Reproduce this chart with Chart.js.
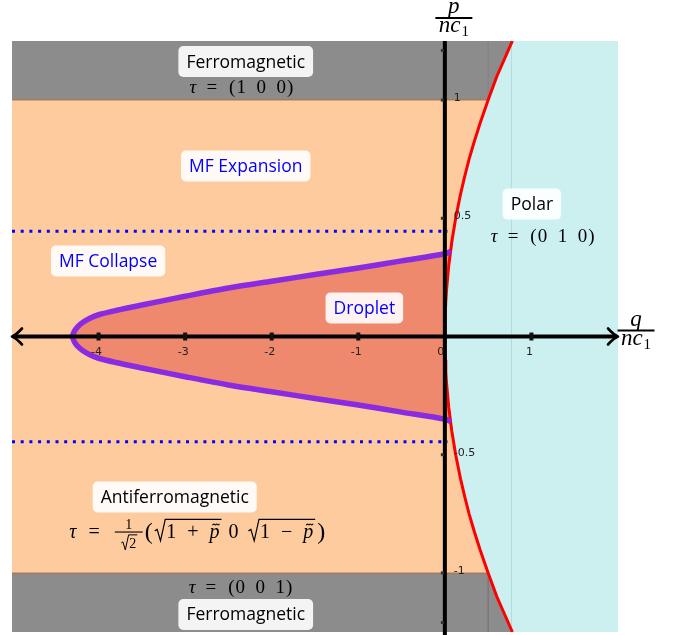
<!DOCTYPE html>
<html>
<head>
<meta charset="utf-8">
<script src="https://cdn.jsdelivr.net/npm/chart.js@4/dist/chart.umd.min.js"></script>
<style>
  html, body { margin: 0; padding: 0; background: #ffffff; }
  #wrap { width: 683px; height: 635px; }
</style>
</head>
<body>
<div id="wrap"><canvas id="phase" width="683" height="635"></canvas></div>
<script>
// ---- diagram data (q/nc1 horizontally, p/nc1 vertically) ----
const qLimits = [-5, 2];
const pLimits = [-1.25, 1.25];

// ferromagnetic bands sit beyond |p| = 1
const ferroEdgeP = [1, -1];

// boundary of the polar phase (red curve)
const polarP = [1.25, 1.175, 1.1, 1.0, 0.9, 0.825, 0.75, 0.675, 0.6, 0.5, 0.4, 0.3, 0.2, 0.15, 0.1, 0.05, 0,
                -0.05, -0.1, -0.15, -0.2, -0.3, -0.4, -0.5, -0.6, -0.675, -0.75, -0.825, -0.9, -1.0, -1.1, -1.175, -1.25];
const polarQ = [0.78, 0.69, 0.6, 0.5, 0.405, 0.34, 0.28, 0.228, 0.18, 0.125, 0.08, 0.045, 0.02, 0.011, 0.005, 0.001, 0,
                0.001, 0.005, 0.011, 0.02, 0.045, 0.08, 0.125, 0.18, 0.228, 0.28, 0.34, 0.405, 0.5, 0.6, 0.69, 0.78];

// droplet boundary (purple curve)
const dropletQ = [0.07, 0, -0.5, -1, -1.5, -2, -2.5, -3, -3.5, -3.8, -4, -4.1, -4.18, -4.24, -4.28, -4.3,
                  -4.28, -4.24, -4.18, -4.1, -4, -3.8, -3.5, -3, -2.5, -2, -1.5, -1, -0.5, 0, 0.07];
const dropletP = [0.36, 0.35, 0.32, 0.29, 0.262, 0.234, 0.205, 0.17, 0.133, 0.11, 0.092, 0.077, 0.06, 0.042, 0.022, 0,
                  -0.022, -0.042, -0.06, -0.077, -0.092, -0.11, -0.133, -0.17, -0.205, -0.234, -0.262, -0.29, -0.32, -0.35, -0.36];

// mean-field collapse threshold (dotted lines)
const collapseQ = [-5, 0.03];
const collapseP = [0.445, -0.445];

// axis ticks
const xTicks = [-4, -3, -2, -1, 0, 1];
const xTickLabels = ['-4', '-3', '-2', '-1', '0', '1'];
const yTicks = [1, 0.5, -0.5, -1];
const yTickLabels = ['1', '0.5', '-0.5', '-1'];
const yEndMarks = [1.21, -1.21];

// phase names
const phaseNames = ['Ferromagnetic', 'MF Expansion', 'Polar', 'MF Collapse', 'Droplet', 'Antiferromagnetic', 'Ferromagnetic'];

// ---- helpers ----
const pts = (qs, ps) => qs.map((q, i) => ({ x: q, y: ps[i] }));
const rect = (q0, q1, p0, p1) => [{ x: q0, y: p0 }, { x: q1, y: p0 }, { x: q1, y: p1 }, { x: q0, y: p1 }];
const NONE = 'rgba(0,0,0,0)';

function area(label, data, color, tension) {
  return { label, data, fill: 'shape', backgroundColor: color, borderColor: NONE, borderWidth: 0, pointRadius: 0, tension: tension || 0 };
}
function stroke(label, data, color, width, dash, tension) {
  return { label, data, fill: false, borderColor: color, borderWidth: width, borderDash: dash || [], pointRadius: 0, borderCapStyle: 'butt', tension: tension || 0 };
}

const [qMin, qMax] = qLimits;
const [pMin, pMax] = pLimits;
const polarPts = pts(polarQ, polarP);
const dropletPts = pts(dropletQ, dropletP);

const layers = [
  area('ferro-top', rect(qMin, qMax, ferroEdgeP[0], pMax), '#8c8c8c'),
  area('ferro-bottom', rect(qMin, qMax, pMin, ferroEdgeP[1]), '#8c8c8c'),
  area('antiferro', rect(qMin, qMax, ferroEdgeP[1], ferroEdgeP[0]), '#fecb9f'),
  stroke('edge-top', [{ x: qMin, y: ferroEdgeP[0] }, { x: 0.5, y: ferroEdgeP[0] }], 'rgba(175,105,55,0.55)', 1.5),
  stroke('edge-bottom', [{ x: qMin, y: ferroEdgeP[1] }, { x: 0.5, y: ferroEdgeP[1] }], 'rgba(175,105,55,0.55)', 1.5),
  stroke('seam-top', [{ x: 0.5, y: ferroEdgeP[0] }, { x: 0.5, y: pMax }], 'rgba(0,0,0,0.07)', 1),
  stroke('seam-bottom', [{ x: 0.5, y: ferroEdgeP[1] }, { x: 0.5, y: pMin }], 'rgba(0,0,0,0.07)', 1),
  area('droplet', dropletPts, '#ee896d', 0.3),
  area('polar', polarPts.concat([{ x: qMax, y: pMin }, { x: qMax, y: pMax }]), '#ccf0f0'),
  stroke('seam-polar', [{ x: 0.77, y: pMax }, { x: 0.77, y: pMin }], 'rgba(0,90,90,0.045)', 1),
  stroke('collapse-top', [{ x: collapseQ[0], y: collapseP[0] }, { x: collapseQ[1], y: collapseP[0] }], '#0000ff', 3, [3, 5.7]),
  stroke('collapse-bottom', [{ x: collapseQ[0], y: collapseP[1] }, { x: collapseQ[1], y: collapseP[1] }], '#0000ff', 3, [3, 5.7]),
  stroke('polar-boundary', polarPts, '#ff0000', 3),
  stroke('droplet-boundary', dropletPts, '#8a2be2', 5.5, null, 0.3)
];
// first layer is painted first (highest order)
layers.forEach((d, i) => { d.order = layers.length - i; });

// ---- text drawing ----
const SANS = '"Open Sans", "DejaVu Sans", sans-serif';
const SERIF = '"Liberation Serif", "DejaVu Serif", serif';

function roundRect(ctx, x, y, w, h, r) {
  ctx.beginPath();
  ctx.moveTo(x + r, y);
  ctx.arcTo(x + w, y, x + w, y + h, r);
  ctx.arcTo(x + w, y + h, x, y + h, r);
  ctx.arcTo(x, y + h, x, y, r);
  ctx.arcTo(x, y, x + w, y, r);
  ctx.closePath();
}

function labelBox(ctx, cx, cy, text, color) {
  ctx.font = '17.5px ' + SANS;
  const w = ctx.measureText(text).width + 16, h = 31;
  ctx.fillStyle = 'rgba(255,255,255,0.9)';
  roundRect(ctx, cx - w / 2, cy - h / 2, w, h, 5);
  ctx.fill();
  ctx.fillStyle = color;
  ctx.textAlign = 'center';
  ctx.textBaseline = 'middle';
  ctx.fillText(text, cx, cy + 1);
}

// radical sign with overline, returns the width of the sign itself
function radical(ctx, x, by, size, innerW, lw) {
  const s = size / 21;
  ctx.save();
  ctx.lineWidth = lw;
  ctx.lineJoin = 'miter';
  ctx.beginPath();
  ctx.moveTo(x, by - 7 * s);
  ctx.lineTo(x + 2.5 * s, by - 8.5 * s);
  ctx.lineTo(x + 6 * s, by + 3.5 * s);
  ctx.lineTo(x + 11 * s, by - 19 * s);
  ctx.lineTo(x + 12 * s + innerW, by - 19 * s);
  ctx.stroke();
  ctx.restore();
  return 12 * s;
}

// lays out a row of math pieces centred on cx
function mathRow(ctx, cx, by, parts) {
  let total = 0;
  parts.forEach(p => {
    if (p.t !== undefined) { ctx.font = p.font; p.w = ctx.measureText(p.t).width; }
    total += (p.gap || 0) + p.w;
  });
  let x = cx - total / 2;
  ctx.textAlign = 'left';
  ctx.textBaseline = 'alphabetic';
  parts.forEach(p => {
    x += p.gap || 0;
    if (p.t !== undefined) { ctx.font = p.font; ctx.fillText(p.t, x, by + (p.dy || 0)); }
    else p.draw(x);
    x += p.w;
  });
}

function tauVector(ctx, cx, by, a, b, c) {
  const up = '19px ' + SERIF, it = 'italic 19px ' + SERIF;
  mathRow(ctx, cx, by, [
    { t: 'τ', font: it },
    { t: '=', font: up, gap: 10 },
    { t: '(', font: up, gap: 12 },
    { t: a, font: up, gap: 1 },
    { t: b, font: up, gap: 10.5 },
    { t: c, font: up, gap: 10.5 },
    { t: ')', font: up, gap: 1 }
  ]);
}

// small tilde accent
function tilde(ctx, cx, cy, w) {
  ctx.save();
  ctx.lineWidth = 1.1;
  ctx.beginPath();
  ctx.moveTo(cx - w / 2, cy + 0.8);
  ctx.bezierCurveTo(cx - w / 4, cy - 2.2, cx - w / 8, cy + 1.8, cx, cy);
  ctx.bezierCurveTo(cx + w / 8, cy - 1.8, cx + w / 4, cy + 2.2, cx + w / 2, cy - 0.8);
  ctx.stroke();
  ctx.restore();
}

function antiferroFormula(ctx, cx, by) {
  const up = '20px ' + SERIF, it = 'italic 20px ' + SERIF, small = '14px ' + SERIF, big = '24px ' + SERIF;
  const measure = (f, t) => { ctx.font = f; return ctx.measureText(t).width; };
  const w1 = measure(up, '1'), wPlus = measure(up, '+'), wP = measure(it, 'p');
  const gapOp = 11;
  const innerW = w1 + gapOp + wPlus + gapOp + wP + 2;
  const rootPiece = (sign) => ({
    w: 12 * 20 / 21 + innerW,
    draw(x) {
      const rw = radical(ctx, x, by, 20, innerW, 1.2);
      let xx = x + rw;
      ctx.font = up; ctx.fillText('1', xx, by); xx += w1 + gapOp;
      ctx.fillText(sign, xx, by); xx += wPlus + gapOp;
      ctx.font = it; ctx.fillText('p', xx, by);
      tilde(ctx, xx + wP / 2 + 1.5, by - 13, 7);
    }
  });
  const fracW = 30;
  const frac = {
    w: fracW,
    draw(x) {
      ctx.save();
      ctx.font = small;
      ctx.textAlign = 'center';
      ctx.fillText('1', x + fracW / 2, by - 9);
      ctx.lineWidth = 1.1;
      ctx.beginPath(); ctx.moveTo(x + 1, by - 5.5); ctx.lineTo(x + fracW - 1, by - 5.5); ctx.stroke();
      const w2 = measure(small, '2');
      const rw = 12 * 14 / 21;
      const sx = x + (fracW - rw - w2) / 2;
      radical(ctx, sx, by + 10, 14, w2 + 1, 1);
      ctx.font = small; ctx.textAlign = 'left';
      ctx.fillText('2', sx + rw, by + 10);
      ctx.restore();
    }
  };
  mathRow(ctx, cx, by, [
    { t: 'τ', font: it },
    { t: '=', font: up, gap: 12 },
    Object.assign({ gap: 14 }, frac),
    { t: '(', font: big, gap: 1, dy: 1 },
    Object.assign({ gap: 2 }, rootPiece('+')),
    { t: '0', font: up, gap: 7 },
    Object.assign({ gap: 10 }, rootPiece('−')),
    { t: ')', font: big, gap: 2, dy: 1 }
  ]);
}

// axis title as a fraction: numerator over n c_1
function axisTitle(ctx, cx, barY, num) {
  const it = 'italic 23px ' + SERIF, sub = '15px ' + SERIF;
  ctx.save();
  ctx.fillStyle = '#000';
  ctx.textBaseline = 'alphabetic';
  ctx.textAlign = 'center';
  ctx.font = it;
  ctx.fillText(num, cx, barY - 5);
  ctx.lineWidth = 1.8;
  ctx.beginPath(); ctx.moveTo(cx - 18.5, barY); ctx.lineTo(cx + 18.5, barY); ctx.stroke();
  ctx.textAlign = 'left';
  const wnc = ctx.measureText('nc').width;
  ctx.font = sub;
  const w1 = ctx.measureText('1').width;
  const x0 = cx - (wnc + w1 + 1) / 2;
  ctx.font = it;
  ctx.fillText('nc', x0, barY + 14);
  ctx.font = sub;
  ctx.fillText('1', x0 + wnc + 1, barY + 18);
  ctx.restore();
}

function arrowHead(ctx, tx, ty, d) {
  ctx.save();
  ctx.lineWidth = 2.6;
  ctx.lineCap = 'round';
  ctx.lineJoin = 'round';
  ctx.strokeStyle = '#000';
  ctx.beginPath();
  ctx.moveTo(tx - d * 10, ty - 8);
  ctx.quadraticCurveTo(tx - d * 4, ty - 1.5, tx, ty);
  ctx.quadraticCurveTo(tx - d * 4, ty + 1.5, tx - d * 10, ty + 8);
  ctx.stroke();
  ctx.restore();
}

// annotation anchors in data coordinates
const boxAnchors = [
  { q: -2.30, p: 1.163, color: '#000000' },
  { q: -2.30, p: 0.721, color: '#0000ff' },
  { q: 1.005, p: 0.56, color: '#000000' },
  { q: -3.89, p: 0.319, color: '#0000ff' },
  { q: -0.93, p: 0.121, color: '#0000ff' },
  { q: -3.12, p: -0.679, color: '#000000' },
  { q: -2.30, p: -1.176, color: '#000000' }
];

const overlay = {
  id: 'overlay',
  afterDatasetsDraw(chart) {
    const { ctx, chartArea } = chart;
    const sx = chart.scales.x, sy = chart.scales.y;
    const X = v => sx.getPixelForValue(v), Y = v => sy.getPixelForValue(v);
    const x0 = X(0), y0 = Y(0);
    ctx.save();

    // axes
    ctx.strokeStyle = '#000';
    ctx.lineWidth = 4;
    ctx.beginPath();
    ctx.moveTo(X(qMin) + 1, y0); ctx.lineTo(X(qMax) - 1, y0);
    ctx.moveTo(x0, chartArea.top); ctx.lineTo(x0, chart.height);
    ctx.stroke();
    arrowHead(ctx, X(qMin), y0, -1);
    arrowHead(ctx, X(qMax), y0, 1);

    // tick marks and labels
    ctx.fillStyle = '#111';
    xTicks.forEach(v => { if (v !== 0) ctx.fillRect(X(v) - 2, y0 - 4, 4, 8); });
    ctx.fillStyle = '#333';
    yTicks.concat(yEndMarks).forEach(v => ctx.fillRect(x0 - 4, Y(v) - 1.5, 3, 3));
    ctx.font = '11px "DejaVu Sans", sans-serif';
    ctx.fillStyle = '#222';
    ctx.textBaseline = 'alphabetic';
    xTicks.forEach((v, i) => {
      ctx.textAlign = 'center';
      ctx.fillText(xTickLabels[i], v === 0 ? x0 - 4 : X(v) - 2, y0 + 18);
    });
    ctx.textAlign = 'left';
    yTicks.forEach((v, i) => ctx.fillText(yTickLabels[i], x0 + 9, Y(v) + 1));

    // axis titles
    axisTitle(ctx, x0 + 9, chartArea.top - 23, 'p');
    axisTitle(ctx, X(qMax) + 18, y0 - 6, 'q');

    // phase names
    boxAnchors.forEach((a, i) => labelBox(ctx, X(a.q), Y(a.p), phaseNames[i], a.color));

    // order parameters
    ctx.fillStyle = '#000';
    ctx.strokeStyle = '#000';
    tauVector(ctx, X(-2.35), Y(1.05) + 5, '1', '0', '0');
    tauVector(ctx, X(1.13), Y(0.419) + 5, '0', '1', '0');
    tauVector(ctx, X(-2.36), Y(-1.062) + 5, '0', '0', '1');
    antiferroFormula(ctx, X(-2.86), Y(-0.825) + 6);

    ctx.restore();
  }
};

new Chart(document.getElementById('phase'), {
  type: 'line',
  data: { datasets: layers },
  options: {
    responsive: false,
    animation: false,
    events: [],
    devicePixelRatio: 1,
    layout: { padding: { left: 12, right: 65, top: 41, bottom: 3 } },
    scales: {
      x: { type: 'linear', min: qMin, max: qMax, display: false },
      y: { type: 'linear', min: pMin, max: pMax, display: false }
    },
    plugins: {
      legend: { display: false },
      tooltip: { enabled: false },
      filler: { drawTime: 'beforeDatasetDraw' }
    }
  },
  plugins: [overlay]
});
</script>
</body>
</html>
